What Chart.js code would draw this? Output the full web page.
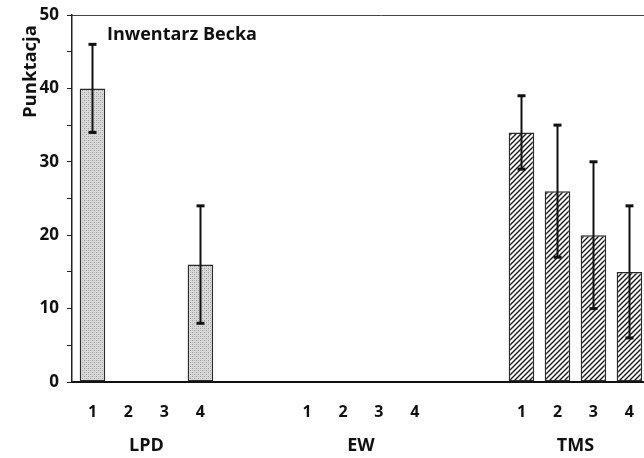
<!DOCTYPE html>
<html>
<head>
<meta charset="utf-8">
<script src="https://cdn.jsdelivr.net/npm/chart.js@4/dist/chart.umd.min.js"></script>
<style>
  html, body { margin: 0; padding: 0; background: #fff; overflow: hidden; width: 644px; height: 458px; }
  #wrap { width: 700px; height: 458px; }
</style>
</head>
<body>
<div id="wrap"><canvas id="c" width="700" height="458"></canvas></div>
<script>
// ---- data ----
const groups = ['LPD', 'EW', 'TMS'];
const subLabels = ['1', '2', '3', '4'];
const lpdMeans = [40, null, null, 16];
const lpdLow   = [34, null, null, 8];
const lpdHigh  = [46, null, null, 24];
const ewMeans  = [null, null, null, null];
const ewLow    = [null, null, null, null];
const ewHigh   = [null, null, null, null];
const tmsMeans = [34, 26, 20, 15];
const tmsLow   = [29, 17, 10, 6];
const tmsHigh  = [39, 35, 30, 24];
const yTicksMajor = [0, 10, 20, 30, 40, 50];
const chartLabel = 'Inwentarz Becka';
const yTitle = 'Punktacja';

const means = [lpdMeans, ewMeans, tmsMeans];
const lows = [lpdLow, ewLow, tmsLow];
const highs = [lpdHigh, ewHigh, tmsHigh];

// ---- patterns ----
function dotPattern() {
  const c = document.createElement('canvas');
  c.width = 4; c.height = 4;
  const x = c.getContext('2d');
  x.fillStyle = '#dadada'; x.fillRect(0, 0, 4, 4);
  x.fillStyle = '#9a9a9a';
  x.fillRect(0, 0, 1, 1); x.fillRect(2, 2, 1, 1);
  x.fillStyle = '#bcbcbc';
  x.fillRect(2, 0, 1, 1); x.fillRect(0, 2, 1, 1);
  return x.createPattern(c, 'repeat');
}
function hatchPattern() {
  const s = 5;
  const c = document.createElement('canvas');
  c.width = s; c.height = s;
  const x = c.getContext('2d');
  x.fillStyle = '#ffffff'; x.fillRect(0, 0, s, s);
  x.strokeStyle = '#1a1a1a'; x.lineWidth = 1.4;
  x.beginPath();
  x.moveTo(0, s); x.lineTo(s, 0);
  x.moveTo(-1, 1); x.lineTo(1, -1);
  x.moveTo(s - 1, s + 1); x.lineTo(s + 1, s - 1);
  x.stroke();
  return x.createPattern(c, 'repeat');
}
const ctx = document.getElementById('c').getContext('2d');
const groupFills = [dotPattern(), '#ffffff', hatchPattern()];

const FONT = '"Open Sans", Lato, "DejaVu Sans", sans-serif';

const datasets = subLabels.map((lab, si) => ({
  label: lab,
  data: groups.map((g, gi) => ({ x: gi, y: means[gi][si] })),
  backgroundColor: groups.map((g, gi) => groupFills[gi]),
  borderColor: '#2a2a2a',
  borderWidth: 1.5,
  borderSkipped: false,
  categoryPercentage: 0.671,
  barPercentage: 0.71
}));

const decorPlugin = {
  id: 'decor',
  afterDatasetsDraw(chart) {
    const c = chart.ctx;
    const y = chart.scales.y;
    c.save();
    c.strokeStyle = '#111';
    c.fillStyle = '#111';
    subLabels.forEach((lab, si) => {
      const meta = chart.getDatasetMeta(si);
      groups.forEach((g, gi) => {
        const lo = lows[gi][si], hi = highs[gi][si];
        if (lo == null || hi == null) return;
        const el = meta.data[gi];
        const px = Math.round(el.x) + 0.5;
        const yl = y.getPixelForValue(lo), yh = y.getPixelForValue(hi);
        c.lineWidth = 2;
        c.beginPath(); c.moveTo(px, yl); c.lineTo(px, yh); c.stroke();
        c.fillRect(px - 4, yh - 1.5, 8, 3);
        c.fillRect(px - 4, yl - 1.5, 8, 3);
      });
    });
    c.restore();
  },
  afterDraw(chart) {
    const c = chart.ctx;
    const area = chart.chartArea;
    c.save();
    c.fillStyle = '#111';
    c.textBaseline = 'middle';
    c.textAlign = 'center';
    groups.forEach((g, gi) => {
      let sum = 0;
      c.font = 'bold 16px ' + FONT;
      subLabels.forEach((lab, si) => {
        const el = chart.getDatasetMeta(si).data[gi];
        sum += el.x;
        c.fillText(lab, el.x, area.bottom + 30);
      });
      c.font = 'bold 18px ' + FONT;
      c.fillText(g, sum / subLabels.length, area.bottom + 64);
    });
    // inner label
    c.textAlign = 'left';
    c.font = 'bold 18px ' + FONT;
    c.fillText(chartLabel, area.left + 35, area.top + 20);
    // y axis title
    c.save();
    c.translate(area.left - 41, area.top + 103);
    c.rotate(-Math.PI / 2);
    c.textAlign = 'left';
    c.font = 'bold 18.5px ' + FONT;
    c.fillText(yTitle, 0, 0);
    c.restore();
    c.restore();
  }
};

new Chart(ctx, {
  type: 'bar',
  data: { datasets },
  options: {
    responsive: false,
    animation: false,
    events: [],
    layout: { padding: { top: 0, right: 10, left: 0, bottom: 0 } },
    plugins: { legend: { display: false }, tooltip: { enabled: false }, title: { display: false } },
    scales: {
      x: {
        type: 'linear',
        min: -0.347,
        max: 2.534,
        offset: false,
        afterBuildTicks: s => { s.ticks = groups.map((g, gi) => ({ value: gi })); },
        ticks: { display: false },
        grid: { display: false },
        border: { display: true, color: '#111', width: 2 },
        afterFit: s => { s.height = 76; }
      },
      xTop: {
        type: 'linear',
        position: 'top',
        display: true,
        ticks: { display: false },
        grid: { display: false },
        border: { display: true, color: '#444', width: 1 }
      },
      y: {
        min: 0,
        max: 50,
        ticks: {
          stepSize: 5,
          padding: 8,
          color: '#111',
          font: { family: FONT, size: 17, weight: 'bold' },
          callback: v => yTicksMajor.includes(v) ? String(v) : ''
        },
        grid: { display: true, drawOnChartArea: false, drawTicks: true, tickLength: 5, color: '#222', lineWidth: 1 },
        border: { display: true, color: '#222', width: 1.5 },
        title: { display: false },
        afterFit: s => { s.width = 72; s.paddingTop = 15; }
      }
    }
  },
  plugins: [decorPlugin]
});
</script>
</body>
</html>
